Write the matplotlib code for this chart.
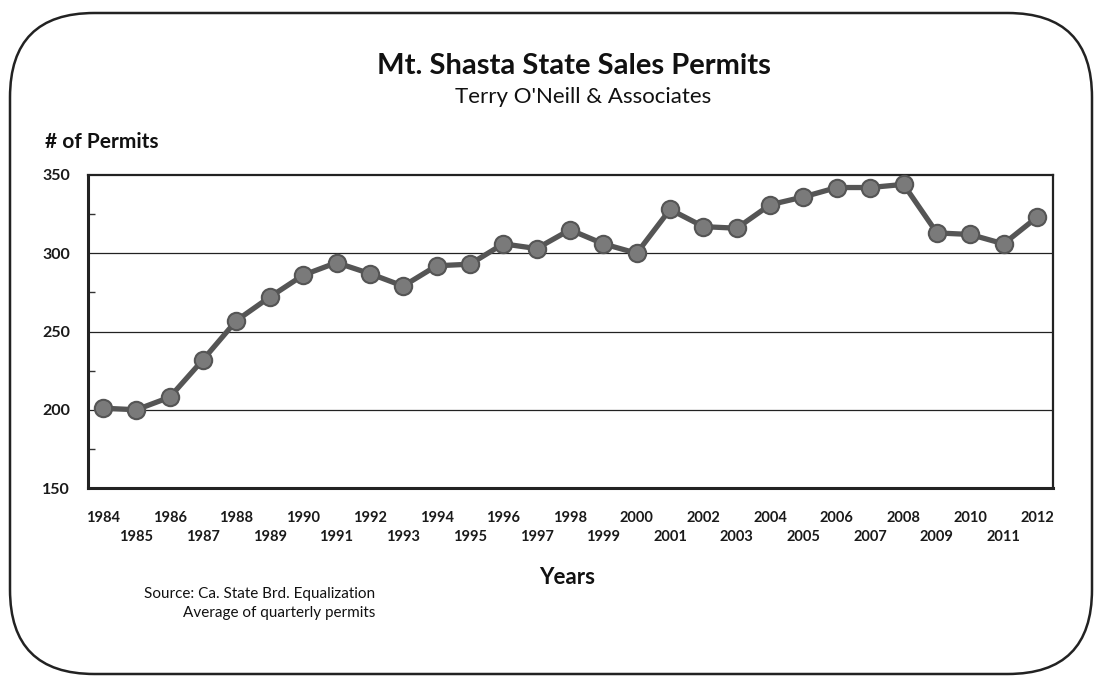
import matplotlib
matplotlib.use("Agg")
import matplotlib.pyplot as plt
from matplotlib.patches import FancyBboxPatch

years = list(range(1984, 2013))
permits = [201, 200, 208, 232, 257, 272, 286, 294, 287, 279, 292, 293, 306, 303,
           315, 306, 300, 328, 317, 316, 331, 336, 342, 342, 344, 313, 312, 306, 323]
y_ticks = [150, 200, 250, 300, 350]
y_minor = [175, 225, 275, 325]

title = "Mt. Shasta State Sales Permits"
subtitle = "Terry O'Neill & Associates"
ylabel = "# of Permits"
xlabel = "Years"
source_lines = ["Source: Ca. State Brd. Equalization", "Average of quarterly permits"]

plt.rcParams['font.family'] = ['Lato', 'DejaVu Sans']

W, H = 1094, 677
fig = plt.figure(figsize=(W / 100, H / 100), dpi=100)
fig.patch.set_facecolor('white')

def fx(px):
    return px / W

def fy(py):
    return 1 - py / H

# rounded border
border = FancyBboxPatch((fx(10), fy(674)), fx(1092) - fx(10), fy(13) - fy(674),
                        boxstyle="round,pad=0,rounding_size=0.077",
                        transform=fig.transFigure, fill=False,
                        edgecolor='#222222', linewidth=1.8, mutation_aspect=W / H)
fig.patches.append(border)

ax = fig.add_axes([fx(88), fy(488), fx(1053) - fx(88), fy(175) - fy(488)])
ax.set_xlim(1983.55, 2012.48)
ax.set_ylim(150, 350)

for g in [200, 250, 300]:
    ax.axhline(g, color='#222222', linewidth=0.9, zorder=1)

ax.plot(years, permits, color='#555555', linewidth=3.8, marker='o',
        markersize=12.5, markerfacecolor='#7a7a7a', markeredgecolor='#555555',
        markeredgewidth=1.5, zorder=3, clip_on=False)

for s in ax.spines.values():
    s.set_color('#222222')
    s.set_linewidth(1.6)
ax.spines['left'].set_linewidth(2.2)
ax.spines['bottom'].set_linewidth(2.2)

ax.set_yticks(y_ticks)
ax.set_yticks(y_minor, minor=True)
ax.tick_params(axis='y', which='major', length=0, pad=13, labelsize=11.5)
ax.tick_params(axis='y', which='minor', direction='in', length=5, width=1, color='#333333')
for lbl in ax.get_yticklabels():
    lbl.set_fontweight('bold')
    lbl.set_color('#1a1a1a')

ax.set_xticks(years)
ax.set_xticklabels([])
ax.tick_params(axis='x', length=0)
for i, yr in enumerate(years):
    off = 0 if i % 2 == 0 else 19
    ax.annotate(str(yr), xy=(yr, 0), xycoords=('data', 'axes fraction'),
                xytext=(0, -30 - off), textcoords='offset pixels',
                ha='center', va='center', fontsize=10.5, fontweight='bold', color='#1a1a1a')

fig.text(fx(574), fy(66), title, ha='center', va='center', fontsize=21,
         fontweight='bold', color='#111111')
fig.text(fx(583), fy(97), subtitle, ha='center', va='center', fontsize=16,
         color='#111111')
fig.text(fx(45), fy(142), ylabel, ha='left', va='center', fontsize=15,
         fontweight='bold', color='#111111')
fig.text(fx(567), fy(577), xlabel, ha='center', va='center', fontsize=16,
         fontweight='bold', color='#111111')
fig.text(fx(375), fy(594), source_lines[0], ha='right', va='center', fontsize=11,
         color='#111111')
fig.text(fx(375), fy(613), source_lines[1], ha='right', va='center', fontsize=11,
         color='#111111')

fig.savefig('out.png', dpi=100, facecolor='white')
